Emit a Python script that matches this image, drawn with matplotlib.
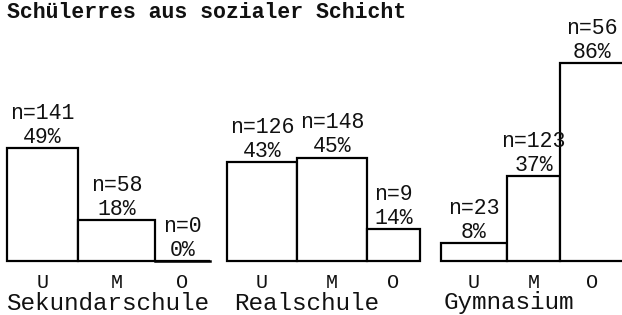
import matplotlib.pyplot as plt

# Werte aus der Abbildung
schulen = ['Sekundarschule', 'Realschule', 'Gymnasium']
schichten = ['U', 'M', 'O']
anzahl_sek = [141, 58, 0]
prozent_sek = [49, 18, 0]
anzahl_real = [126, 148, 9]
prozent_real = [43, 45, 14]
anzahl_gym = [23, 123, 56]
prozent_gym = [8, 37, 86]

anzahl = [anzahl_sek, anzahl_real, anzahl_gym]
prozent = [prozent_sek, prozent_real, prozent_gym]

# Layout in Pixeln (622 x 315)
W, H = 622, 315
basis = 261
px_pro_prozent = 2.3
gruppen_start = [7, 227, 441]
breiten = [[71, 77, 55], [70, 70, 53], [66, 53, 64]]
namen_x = [108, 307, 509]

schrift = 'Liberation Mono'
fs = 15.5

fig = plt.figure(figsize=(W / 100, H / 100), dpi=100)
ax = fig.add_axes([0, 0, 1, 1])
ax.set_xlim(0, W)
ax.set_ylim(-(H - basis) / px_pro_prozent, basis / px_pro_prozent)
ax.axis('off')

d = 1 / px_pro_prozent  # ein Pixel in y-Dateneinheiten

for g in range(3):
    x = gruppen_start[g]
    for i in range(3):
        b = breiten[g][i]
        p = prozent[g][i]
        ax.bar(x, p, width=b, align='edge', facecolor='white',
               edgecolor='black', linewidth=1.6, zorder=2)
        if p == 0:
            ax.plot([x, x + b], [0, 0], color='black', lw=1.8, zorder=3)
        xm = x + b / 2
        ax.text(xm, p + 0 * d, f'{p}%', ha='center', va='bottom',
                family=schrift, fontsize=fs, color='#111111')
        ax.text(xm, p + 24 * d, f'n={anzahl[g][i]}', ha='center', va='bottom',
                family=schrift, fontsize=fs, color='#111111')
        ax.text(xm, -21 * d, schichten[i], ha='center', va='center',
                family=schrift, fontsize=fs - 1, color='#111111')
        x += b
    ax.text(namen_x[g], -42 * d, schulen[g], ha='center', va='center',
            family=schrift, fontsize=17.5, color='#111111')

# Kopfzeile (im Original oben angeschnitten)
fig.text(7 / W, 1 - 18 / H, 'Schülerres aus sozialer Schicht', ha='left',
         va='baseline', family=schrift, fontsize=fs, fontweight='bold',
         color='#111111')

fig.savefig('out.png', dpi=100, facecolor='white')
